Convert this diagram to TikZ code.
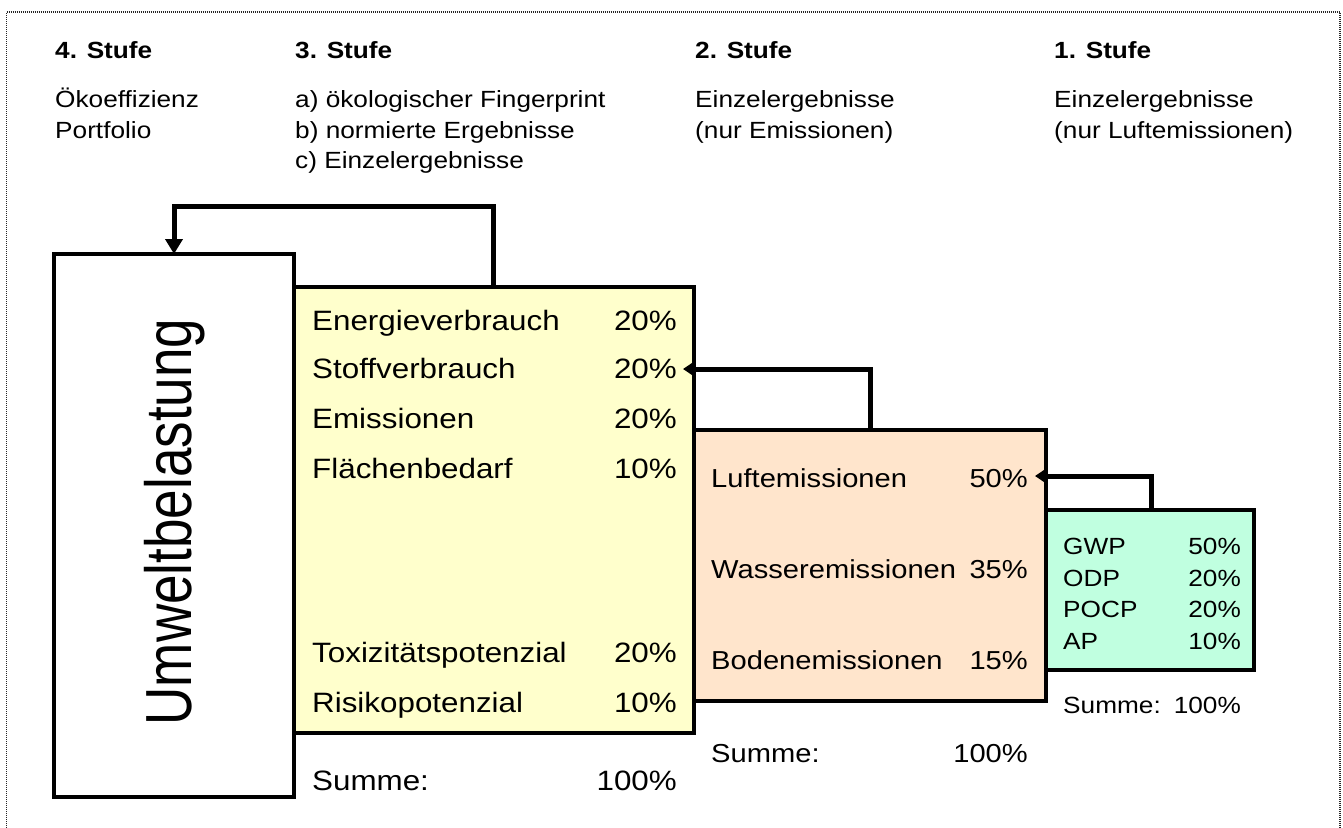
\documentclass[tikz,border=0pt]{standalone}
\usepackage{fontspec}
\usepackage{graphicx}
\setmainfont{Liberation Sans}[FakeStretch=1.12]
\newfontfamily\plainsans{Liberation Sans}
\usetikzlibrary{arrows.meta}
\definecolor{yelfill}{RGB}{255,255,204}
\definecolor{orgfill}{RGB}{255,229,204}
\definecolor{grnfill}{RGB}{192,255,224}
\begin{document}
\begin{tikzpicture}[x=1pt,y=-1pt,
  box/.style={draw=black, line width=4.5pt, inner sep=0pt, outer sep=0pt, anchor=north west},
  conn/.style={draw=black, line width=5pt},
  hbold/.style={font=\fontsize{23.4}{28}\selectfont\bfseries, anchor=base west, inner sep=0pt},
  htxt/.style={font=\fontsize{23.4}{28}\selectfont, anchor=base west, inner sep=0pt},
  ytxt/.style={font=\fontsize{28}{32}\selectfont, anchor=base west, inner sep=0pt},
  ypct/.style={font=\fontsize{28}{32}\selectfont, anchor=base east, inner sep=0pt},
  otxt/.style={font=\fontsize{26}{30}\selectfont, anchor=base west, inner sep=0pt},
  opct/.style={font=\fontsize{26}{30}\selectfont, anchor=base east, inner sep=0pt},
  gtxt/.style={font=\fontsize{23.4}{28}\selectfont, anchor=base west, inner sep=0pt},
  gpct/.style={font=\fontsize{23.4}{28}\selectfont, anchor=base east, inner sep=0pt}
]
\useasboundingbox (0,0) rectangle (1343,827);
% dotted frame
\draw[black!85, line width=1.2pt, dash pattern=on 1pt off 1pt] (6.5,900) -- (6.5,12) -- (1340,12) -- (1340,900);

% headers
\node[hbold] (h4) at (55,58) {4. Stufe};
\node[hbold] (h3) at (295,58) {3. Stufe};
\node[hbold] (h2) at (695,58) {2. Stufe};
\node[hbold] (h1) at (1054,58) {1. Stufe};
\node[htxt] (s4a) at (55,107) {Ökoeffizienz};
\node[htxt] (s4b) at (55,138) {Portfolio};
\node[htxt] (s3a) at (295,107) {a) ökologischer Fingerprint};
\node[htxt] (s3b) at (295,138) {b) normierte Ergebnisse};
\node[htxt] (s3c) at (295,168) {c) Einzelergebnisse};
\node[htxt] (s2a) at (695,107) {Einzelergebnisse};
\node[htxt] (s2b) at (695,138) {(nur Emissionen)};
\node[htxt] (s1a) at (1054,107) {Einzelergebnisse};
\node[htxt] (s1b) at (1054,138) {(nur Luftemissionen)};

% boxes
\node[box, fill=white, minimum width=240pt, minimum height=543pt] (wht) at (54,254) {};
\node[box, fill=yelfill, minimum width=400pt, minimum height=446pt] (yel) at (294,287) {};
\node[box, fill=orgfill, minimum width=352pt, minimum height=271pt] (org) at (694,430) {};
\node[box, fill=grnfill, minimum width=208pt, minimum height=160pt] (grn) at (1046,510) {};

% vertical title
\node[rotate=90, anchor=base, inner sep=0pt] (uwb) at (191,522)
  {\scalebox{1}[1.23]{\fontsize{53}{53}\selectfont\plainsans Umweltbelastung}};

% yellow texts
\node[ytxt] (y1) at (312,330) {Energieverbrauch};
\node[ypct] (y1p) at (677,330) {20\%};
\node[ytxt] (y2) at (312,378) {Stoffverbrauch};
\node[ypct] (y2p) at (677,378) {20\%};
\node[ytxt] (y3) at (312,428) {Emissionen};
\node[ypct] (y3p) at (677,428) {20\%};
\node[ytxt] (y4) at (312,478) {Flächenbedarf};
\node[ypct] (y4p) at (677,478) {10\%};
\node[ytxt] (y5) at (312,662) {Toxizitätspotenzial};
\node[ypct] (y5p) at (677,662) {20\%};
\node[ytxt] (y6) at (312,712) {Risikopotenzial};
\node[ypct] (y6p) at (677,712) {10\%};
\node[ytxt] (ys) at (312,790) {Summe:};
\node[ypct] (ysp) at (677,790) {100\%};

% orange texts
\node[otxt] (o1) at (711,487) {Luftemissionen};
\node[opct] (o1p) at (1028,487) {50\%};
\node[otxt] (o2) at (711,578) {Wasseremissionen};
\node[opct] (o2p) at (1028,578) {35\%};
\node[otxt] (o3) at (711,669) {Bodenemissionen};
\node[opct] (o3p) at (1028,669) {15\%};
\node[otxt] (os) at (711,762) {Summe:};
\node[opct] (osp) at (1028,762) {100\%};

% green texts
\node[gtxt] (g1) at (1063,554) {GWP};
\node[gpct] (g1p) at (1241,554) {50\%};
\node[gtxt] (g2) at (1063,586) {ODP};
\node[gpct] (g2p) at (1241,586) {20\%};
\node[gtxt] (g3) at (1063,617) {POCP};
\node[gpct] (g3p) at (1241,617) {20\%};
\node[gtxt] (g4) at (1063,649) {AP};
\node[gpct] (g4p) at (1241,649) {10\%};
\node[gtxt] (gs) at (1063,713) {Summe:};
\node[gpct] (gsp) at (1241,713) {100\%};

% connectors
\coordinate (ka) at (493,206);
\coordinate (kb) at (870,369);
\coordinate (tb) at (683,369);
\coordinate (kc) at (1151,476);
\coordinate (tc) at (1035,476);
\draw[conn, -{Triangle[length=15pt,width=17pt]}] (yel.north -| ka) -- (ka) -| (wht.north);
\draw[conn, -{Triangle[length=11pt,width=14pt]}] (org.north -| kb) -- (kb) -- (tb);
\draw[conn, -{Triangle[length=11pt,width=14pt]}] (grn.north -| kc) -- (kc) -- (tc);
\end{tikzpicture}
\end{document}
